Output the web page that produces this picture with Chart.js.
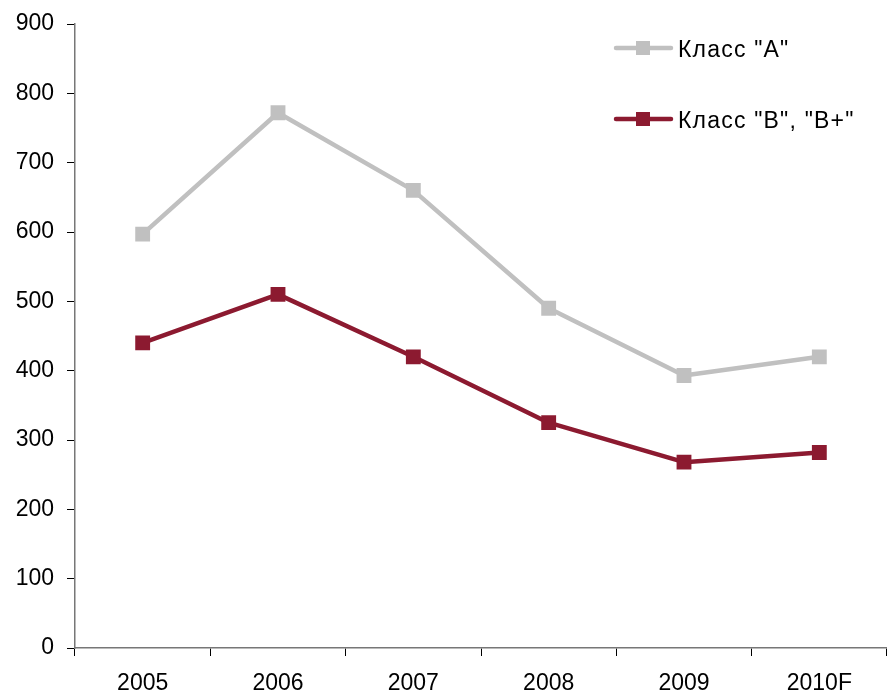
<!DOCTYPE html>
<html>
<head>
<meta charset="utf-8">
<script src="https://cdn.jsdelivr.net/npm/chart.js@4/dist/chart.umd.min.js"></script>
<style>
  html, body { margin: 0; padding: 0; background: #fff; overflow: hidden; }
  #wrap { width: 887px; height: 693px; position: relative; }
</style>
</head>
<body>
<div id="wrap"><canvas id="c"></canvas></div>
<script>
const categories = ['2005', '2006', '2007', '2008', '2009', '2010F'];
const classA = [597, 772, 660, 490, 393, 420];
const classB = [440, 510, 420, 325, 268, 282];
const seriesNames = ['Класс "A"', 'Класс "B", "B+"'];
const colorA = '#c0c0c0';
const colorB = '#8c1a30';

const fontFamily = '"Liberation Sans", Arial, sans-serif';

// Legend drawn inside the plot area, top-right
const innerLegend = {
  id: 'innerLegend',
  afterDraw(chart) {
    const ctx = chart.ctx;
    const rows = [48, 119];
    ctx.save();
    chart.data.datasets.forEach((ds, i) => {
      const y = rows[i];
      ctx.strokeStyle = ds.borderColor;
      ctx.lineWidth = 4.5;
      ctx.lineCap = 'round';
      ctx.beginPath();
      ctx.moveTo(616, y);
      ctx.lineTo(671, y);
      ctx.stroke();
      ctx.fillStyle = ds.backgroundColor;
      ctx.fillRect(636, y - 7, 14, 14);
      ctx.fillStyle = '#000';
      ctx.font = '23px ' + fontFamily;
      ctx.letterSpacing = '1.2px';
      ctx.textBaseline = 'alphabetic';
      ctx.textAlign = 'left';
      ctx.fillText(ds.label, 678, y + 8.5);
    });
    ctx.restore();
  }
};

const font = { family: fontFamily, size: 23 };

new Chart(document.getElementById('c'), {
  type: 'line',
  data: {
    labels: categories,
    datasets: [
      {
        label: seriesNames[0], data: classA,
        borderColor: colorA, backgroundColor: colorA,
        borderWidth: 4.5, pointStyle: 'rect', pointRadius: 10.5,
        pointBorderWidth: 0, tension: 0
      },
      {
        label: seriesNames[1], data: classB,
        borderColor: colorB, backgroundColor: colorB,
        borderWidth: 4.5, pointStyle: 'rect', pointRadius: 10.5,
        pointBorderWidth: 0, tension: 0
      }
    ]
  },
  options: {
    responsive: true,
    maintainAspectRatio: false,
    animation: false,
    layout: { autoPadding: false, padding: { top: 24, right: 0, left: 0, bottom: 0 } },
    plugins: { legend: { display: false }, tooltip: { enabled: false } },
    elements: { line: { borderCapStyle: 'round', borderJoinStyle: 'round' } },
    scales: {
      x: {
        offset: true,
        grid: { display: true, drawOnChartArea: false, drawTicks: true, tickLength: 8, color: '#000', offset: true },
        border: { color: '#777', width: 1.5 },
        ticks: { font, color: '#000', padding: 14, maxRotation: 0 },
        afterFit(s) { s.height = 45; s.paddingLeft = 0; s.paddingRight = 0; }
      },
      y: {
        min: 0, max: 900,
        grid: { display: true, drawOnChartArea: false, drawTicks: true, tickLength: 8, color: '#000' },
        border: { color: '#777', width: 1.5 },
        ticks: { stepSize: 100, font, color: '#000', padding: 13 },
        afterFit(s) { s.width = 75; s.paddingTop = 0; s.paddingBottom = 0; }
      }
    }
  },
  plugins: [innerLegend]
});
</script>
</body>
</html>
